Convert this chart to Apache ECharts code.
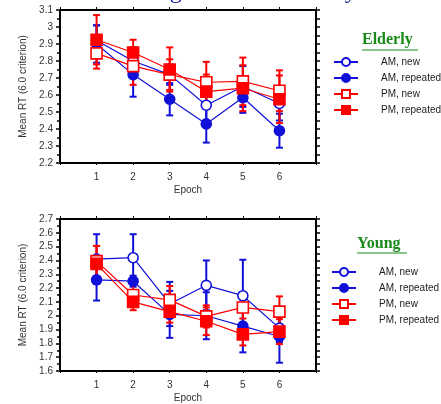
<!DOCTYPE html>
<html>
<head>
<meta charset="utf-8">
<script src="https://cdn.jsdelivr.net/npm/echarts@6/dist/echarts.min.js"></script>
<style>html,body{margin:0;padding:0;background:#fff;}#c{width:441px;height:404px;}</style>
</head>
<body>
<div id="c"></div>
<script>
const epochs = [1, 2, 3, 4, 5, 6];
const xTickLabels = ['1', '2', '3', '4', '5', '6'];
const seriesNames = ['AM, new', 'AM, repeated', 'PM, new', 'PM, repeated'];

const elderlyAmNew = [2.92, 2.80, 2.72, 2.54, 2.65, 2.55];
const elderlyAmRep = [2.90, 2.72, 2.575, 2.43, 2.585, 2.39];
const elderlyPmNew = [2.845, 2.77, 2.72, 2.675, 2.68, 2.625];
const elderlyPmRep = [2.925, 2.85, 2.75, 2.62, 2.64, 2.575];
const elderlyAmNewErr = [0.09, 0.08, 0.06, 0.10, 0.12, 0.10];
const elderlyAmRepErr = [0.11, 0.13, 0.095, 0.11, 0.09, 0.10];
const elderlyPmNewErr = [0.09, 0.11, 0.09, 0.12, 0.14, 0.12];
const elderlyPmRepErr = [0.145, 0.075, 0.13, 0.10, 0.135, 0.14];

const youngAmNew = [2.41, 2.42, 2.085, 2.22, 2.145, 1.91];
const youngAmRep = [2.26, 2.25, 2.01, 2.00, 1.925, 1.85];
const youngPmNew = [2.395, 2.15, 2.115, 1.995, 2.06, 2.03];
const youngPmRep = [2.375, 2.10, 2.03, 1.96, 1.865, 1.885];
const youngAmNewErr = [0.18, 0.17, 0.16, 0.18, 0.26, 0.10];
const youngAmRepErr = [0.15, 0.04, 0.17, 0.17, 0.19, 0.19];
const youngPmNewErr = [0.11, 0.08, 0.10, 0.08, 0.08, 0.11];
const youngPmRepErr = [0.13, 0.06, 0.08, 0.10, 0.08, 0.09];

const elderlyTicks = {min: 2.2, max: 3.1, interval: 0.1};
const youngTicks = {min: 1.6, max: 2.7, interval: 0.1};

const BLUE = '#1010d8';
const RED = '#ff0000';
const FONT = 'Liberation Sans';

const styles = [
  {color: BLUE, symbol: 'circle', fill: '#ffffff', size: 10},
  {color: BLUE, symbol: 'circle', fill: BLUE, size: 10},
  {color: RED, symbol: 'rect', fill: '#ffffff', size: 11},
  {color: RED, symbol: 'rect', fill: RED, size: 11}
];

function lineSeries(name, vals, idx, si) {
  const st = styles[si];
  return {
    type: 'line', name: name, xAxisIndex: idx * 2, yAxisIndex: idx * 2,
    data: epochs.map((e, i) => [e, vals[i]]),
    symbol: st.symbol, symbolSize: st.size, showAllSymbol: true,
    lineStyle: {color: st.color, width: 1.2},
    itemStyle: {color: st.fill, borderColor: st.color, borderWidth: 1.6},
    z: 5 + si, animation: false
  };
}
function errSeries(name, vals, errs, idx, si) {
  const st = styles[si];
  return {
    type: 'custom', name: name, xAxisIndex: idx * 2, yAxisIndex: idx * 2,
    data: epochs.map((e, i) => [e, vals[i] - errs[i], vals[i] + errs[i]]),
    renderItem: function (params, api) {
      const lo = api.coord([api.value(0), api.value(1)]);
      const hi = api.coord([api.value(0), api.value(2)]);
      const w = 3.5;
      const ls = {stroke: st.color, lineWidth: 2};
      return {type: 'group', children: [
        {type: 'line', shape: {x1: lo[0], y1: lo[1], x2: hi[0], y2: hi[1]}, style: ls},
        {type: 'line', shape: {x1: lo[0] - w, y1: lo[1], x2: lo[0] + w, y2: lo[1]}, style: ls},
        {type: 'line', shape: {x1: hi[0] - w, y1: hi[1], x2: hi[0] + w, y2: hi[1]}, style: ls}
      ]};
    },
    z: 1 + si, animation: false, silent: true
  };
}

const grids = [
  {left: 60, top: 10, width: 256, height: 153},
  {left: 60, top: 219, width: 256, height: 155}
];

const xAxes = [];
const yAxes = [];
[elderlyTicks, youngTicks].forEach((t, gi) => {
  xAxes.push({
    type: 'value', gridIndex: gi, min: 0, max: 7, interval: 1, position: 'bottom',
    name: 'Epoch', nameLocation: 'middle', nameGap: 22,
    nameTextStyle: {fontFamily: FONT, fontSize: 10, color: '#333'},
    axisLine: {onZero: false, lineStyle: {color: '#000', width: 2}},
    axisTick: {show: true, length: 2, lineStyle: {color: '#000', width: 1}},
    axisLabel: {fontFamily: FONT, fontSize: 10, color: '#333', margin: 9,
      formatter: v => (v >= 1 && v <= 6) ? xTickLabels[v - 1] : ''},
    splitLine: {show: false}
  });
  xAxes.push({
    type: 'value', gridIndex: gi, min: 0, max: 7, interval: 1, position: 'top',
    axisLine: {onZero: false, lineStyle: {color: '#000', width: 2}},
    axisTick: {show: true, length: 3, lineStyle: {color: '#000', width: 1}},
    axisLabel: {show: false}, splitLine: {show: false}
  });
  yAxes.push({
    type: 'value', gridIndex: gi, min: t.min, max: t.max, interval: t.interval, position: 'left',
    name: 'Mean RT (6.0 criterion)', nameLocation: 'middle', nameGap: 32, nameRotate: 90,
    nameTextStyle: {fontFamily: FONT, fontSize: 10, color: '#333'},
    axisLine: {show: true, onZero: false, lineStyle: {color: '#000', width: 2}},
    axisTick: {show: true, length: 4, lineStyle: {color: '#000', width: 1.5}},
    minorTick: {show: true, splitNumber: 2, length: 3, lineStyle: {color: '#000', width: 1.5}},
    axisLabel: {fontFamily: FONT, fontSize: 10, color: '#333', margin: 7,
      formatter: v => String(Math.round(v * 10) / 10)},
    splitLine: {show: false}
  });
  yAxes.push({
    type: 'value', gridIndex: gi, min: t.min, max: t.max, interval: t.interval, position: 'right',
    axisLine: {show: true, onZero: false, lineStyle: {color: '#000', width: 2}},
    axisTick: {show: true, length: 4, lineStyle: {color: '#000', width: 1.5}},
    minorTick: {show: true, splitNumber: 2, length: 4, lineStyle: {color: '#000', width: 1.5}},
    axisLabel: {show: false}, splitLine: {show: false}
  });
});

const series = [];
const eVals = [elderlyAmNew, elderlyAmRep, elderlyPmNew, elderlyPmRep];
const eErrs = [elderlyAmNewErr, elderlyAmRepErr, elderlyPmNewErr, elderlyPmRepErr];
const yVals = [youngAmNew, youngAmRep, youngPmNew, youngPmRep];
const yErrs = [youngAmNewErr, youngAmRepErr, youngPmNewErr, youngPmRepErr];
[eVals, yVals].forEach((vals, gi) => {
  const errs = gi === 0 ? eErrs : yErrs;
  for (let s = 0; s < 4; s++) {
    series.push(errSeries(seriesNames[s] + ' err', vals[s], errs[s], gi, s));
  }
  for (let s = 0; s < 4; s++) {
    series.push(lineSeries(seriesNames[s], vals[s], gi, s));
  }
});

function legendAt(left, top) {
  return {
    orient: 'vertical', left: left, top: top, padding: 0,
    itemWidth: 24, itemHeight: 10, itemGap: 6,
    data: seriesNames, selectedMode: false,
    textStyle: {fontFamily: FONT, fontSize: 10, color: '#222', padding: [0, 0, 0, 18]}
  };
}

const chart = echarts.init(document.getElementById('c'), null, {renderer: 'canvas'});
chart.setOption({
  animation: false,
  backgroundColor: '#fff',
  grid: grids,
  xAxis: xAxes,
  yAxis: yAxes,
  series: series,
  legend: [legendAt(333, 57), legendAt(331, 267)],
  graphic: [
    {type: 'text', left: 112, top: -20, style: {text: 'Timing Effects in Elderly', fontFamily: 'Liberation Serif', fontSize: 24, fill: '#1a1aa0'}},
    {type: 'text', left: 362, top: 32, style: {text: 'Elderly', fontFamily: 'Liberation Serif', fontWeight: 'bold', fontSize: 16, fill: '#1a8a1a'}},
    {type: 'line', shape: {x1: 362, y1: 50, x2: 418, y2: 50}, style: {stroke: '#1a8a1a', lineWidth: 1}},
    {type: 'text', left: 357, top: 236, style: {text: 'Young', fontFamily: 'Liberation Serif', fontWeight: 'bold', fontSize: 16, fill: '#1a8a1a'}},
    {type: 'line', shape: {x1: 357, y1: 253, x2: 407, y2: 253}, style: {stroke: '#1a8a1a', lineWidth: 1}}
  ]
});
</script>
</body>
</html>
